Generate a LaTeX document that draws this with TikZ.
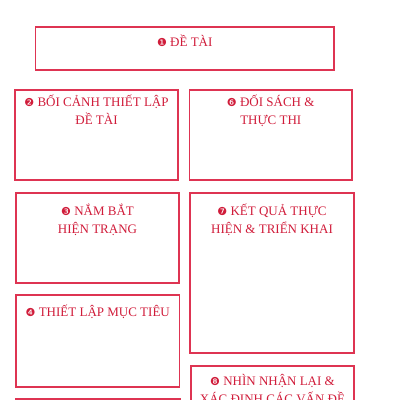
\documentclass[tikz,border=0pt]{standalone}
\usepackage{fontspec}
\setmainfont{Liberation Serif}
\newfontfamily\dingfont{DejaVu Sans}
\usetikzlibrary{calc,positioning}
\definecolor{boxred}{RGB}{222,52,82}
\definecolor{textred}{RGB}{208,28,58}
\newcommand{\stepno}[1]{{\dingfont\fontsize{11}{11}\selectfont #1}}

\begin{document}
\begin{tikzpicture}[x=1pt,y=1pt]
% Boxes and their headings.
\tikzstyle{panel}=[draw=boxred,line width=1.1pt,inner sep=0pt,outer sep=0pt]
\tikzstyle{heading}=[text=textred,font=\fontsize{13}{18}\selectfont,align=center,inner sep=0pt,anchor=base]

\useasboundingbox (0,0) rectangle (400,400);
\clip (0,0) rectangle (400,400);

% This draws the top box.
\node[panel,minimum width=298.5pt,minimum height=43pt] (b1) at (184.75,351.5) {};
\node[heading] (h1) at ($(b1.north)+(0,-20)$) {\stepno{❶} ĐỀ TÀI};

% This draws the left column (the base of a heading is its last line).
\node[panel,minimum width=163pt,minimum height=90pt] (b2) at (96.5,265) {};
\node[heading] (h2) at ($(b2.north)+(0,-35)$) {\stepno{❷} BỐI CẢNH THIẾT LẬP\\ĐỀ TÀI};

\node[panel,minimum width=163pt,minimum height=90pt] (b3) at (97.5,162) {};
\node[heading] (h3) at ($(b3.north)+(0,-41)$) {\stepno{❸} NẮM BẮT\\HIỆN TRẠNG};

\node[panel,minimum width=163.5pt,minimum height=92pt] (b4) at (97.75,59) {};
\node[heading] (h4) at ($(b4.north)+(0,-22)$) {\stepno{❹} THIẾT LẬP MỤC TIÊU};

\node[panel,minimum width=164pt,minimum height=90pt] (b5) at (98,-44) {};

% This draws the right column.
\node[panel,minimum width=162.5pt,minimum height=90pt] (b6) at (270.75,265) {};
\node[heading] (h6) at ($(b6.north)+(0,-35)$) {\stepno{❻} ĐỐI SÁCH \&\\THỰC THI};

\node[panel,minimum width=164pt,minimum height=160pt] (b7) at (272,127) {};
\node[heading] (h7) at ($(b7.north)+(0,-41)$) {\stepno{❼} KẾT QUẢ THỰC\\HIỆN \& TRIỂN KHAI};

\node[panel,minimum width=163pt,minimum height=90pt] (b8) at (272.5,-11) {};
\node[heading] (h8) at ($(b8.north)+(0,-37)$) {\stepno{❽} NHÌN NHẬN LẠI \&\\XÁC ĐỊNH CÁC VẤN ĐỀ};

\end{tikzpicture}
\end{document}
